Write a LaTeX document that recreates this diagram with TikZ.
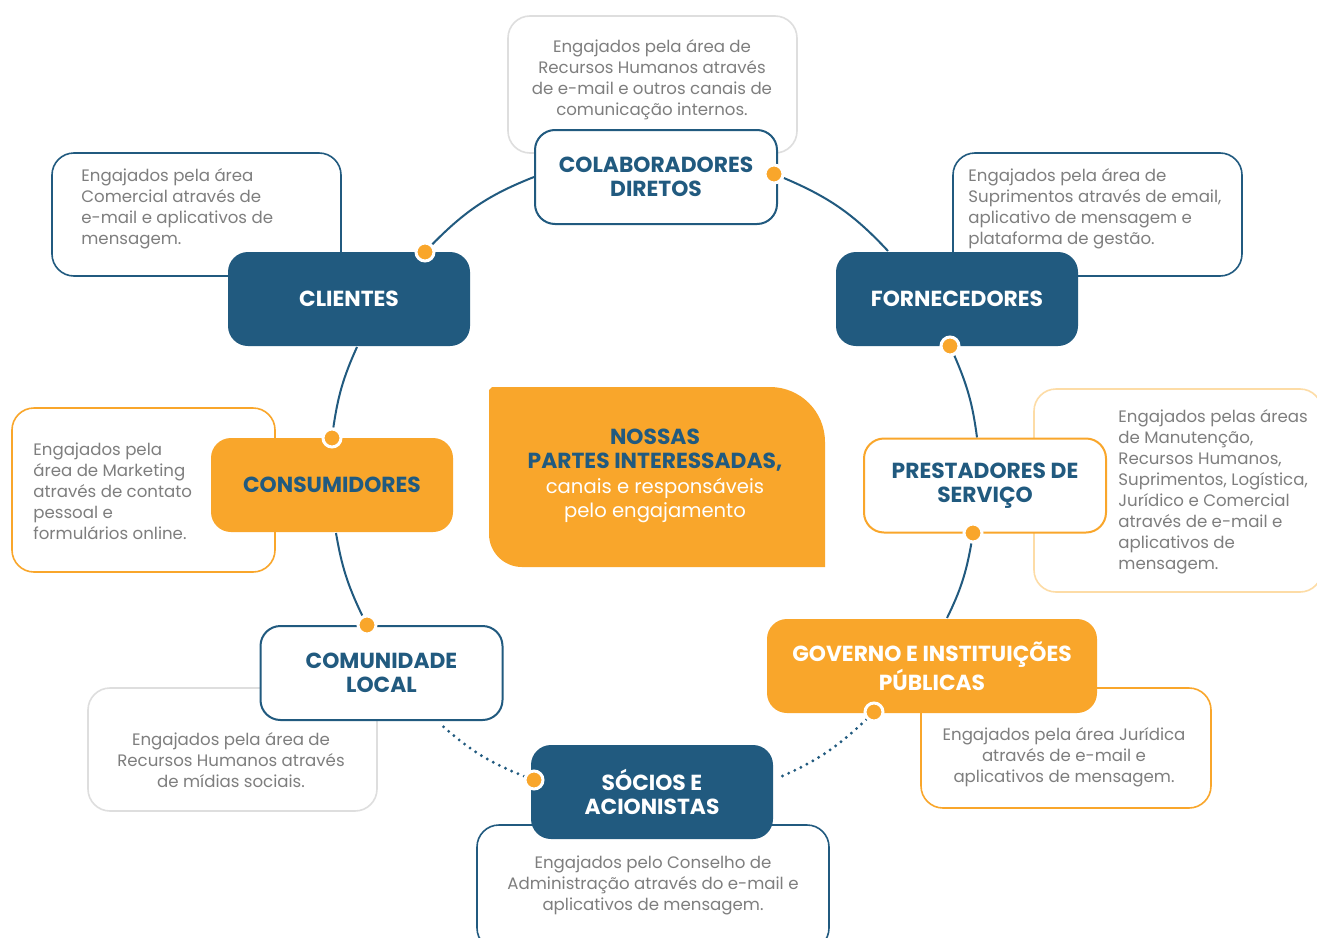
\documentclass[tikz,border=0pt]{standalone}
\usepackage{fontspec}
\setmainfont{Poppins}
\usetikzlibrary{calc}
\definecolor{navy}{HTML}{215A7F}
\definecolor{amber}{HTML}{F9A62B}
\definecolor{txtgray}{HTML}{7E7E7E}
\definecolor{softgray}{HTML}{DEDEDE}
\definecolor{softamber}{HTML}{FDDCA6}
\pgfdeclarelayer{paper}
\pgfdeclarelayer{back}
\pgfsetlayers{paper,back,main}
\tikzset{
  mainbox/.style={rectangle, rounded corners=10pt, minimum width=121pt, minimum height=47pt,
    inner sep=0pt, align=center, font=\fontsize{10.9}{12}\selectfont\bfseries, line width=1pt},
  bluebox/.style={mainbox, fill=navy, text=white},
  amberbox/.style={mainbox, fill=amber, text=navy},
  whitebox/.style={mainbox, fill=white, draw=navy, text=navy},
  descbox/.style={rectangle, rounded corners=11pt, draw=#1, line width=0.8pt, fill=white, inner sep=0pt},
  desctext/.style={inner sep=0pt, text=txtgray, font=\fontsize{8.3}{10.5}\selectfont},
  conn/.style={draw=navy, line width=1pt},
  conndot/.style={draw=navy, line width=1.6pt, line cap=round, dash pattern=on 0pt off 3.4pt},
  hub/.style={circle, fill=amber, draw=white, line width=1.5pt, minimum size=9pt, inner sep=0pt}
}
\begin{document}
\begin{tikzpicture}[x=0.5pt,y=-0.5pt]
\begin{pgfonlayer}{paper}
\fill[white] (0,0) rectangle (1317,937);
\end{pgfonlayer}
\useasboundingbox (0,0) rectangle (1317,937);

% description frames
\node[descbox=softgray, minimum width=144.5pt, minimum height=68.5pt] (bcol) at (652.5,84.5) {};
\node[descbox=navy, minimum width=144.5pt, minimum height=61.5pt] (bcli) at (196.5,214.5) {};
\node[descbox=navy, minimum width=144.5pt, minimum height=61.5pt] (bfor) at (1097.5,214.5) {};
\node[descbox=amber, minimum width=131.5pt, minimum height=82pt] (bcons) at (143.5,490) {};
\node[descbox=softamber, minimum width=144pt, minimum height=101.5pt] (bpre) at (1178,490.5) {};
\node[descbox=softgray, minimum width=144.5pt, minimum height=61.5pt] (bcom) at (232.5,749.5) {};
\node[descbox=amber, minimum width=145pt, minimum height=60pt] (bgov) at (1066,748) {};
\node[descbox=navy, minimum width=176pt, minimum height=62.5pt] (bsoc) at (653,887.5) {};

% description texts
\node[desctext, align=center] (tcol) at (652,80) {Engajados pela área de\\Recursos Humanos através\\de e-mail e outros canais de\\comunicação internos.};
\node[desctext, align=left, anchor=west] (tcli) at (81,209) {Engajados pela área\\Comercial através de\\e-mail e aplicativos de\\mensagem.};
\node[desctext, align=left, anchor=west] (tfor) at (968,209) {Engajados pela área de\\Suprimentos através de email,\\aplicativo de mensagem e\\plataforma de gestão.};
\node[desctext, align=left, anchor=west] (tcons) at (33,491.5) {Engajados pela\\área de Marketing\\através de contato\\pessoal e\\formulários online.};
\node[desctext, align=left, anchor=west] (tpre) at (1118,491.5) {Engajados pelas áreas\\de Manutenção,\\Recursos Humanos,\\Suprimentos, Logística,\\Jurídico e Comercial\\através de e-mail e\\aplicativos de\\mensagem.};
\node[desctext, align=center] (tcom) at (231,760.5) {Engajados pela área de\\Recursos Humanos através\\de mídias sociais.};
\node[desctext, align=center] (tgov) at (1064,757.5) {Engajados pela área Jurídica\\através de e-mail e\\aplicativos de mensagem.};
\node[desctext, align=center] (tsoc) at (653,885.5) {Engajados pelo Conselho de\\Administração através do e-mail e\\aplicativos de mensagem.};

% central panel
\fill[amber] (489,534) -- (489,390) -- (492,387) -- (770,387)
  .. controls (800.4,387) and (825,411.6) .. (825,442) -- (825,567) -- (522,567)
  .. controls (503.8,567) and (489,552.2) .. (489,534) -- cycle;
\node[inner sep=0pt, align=center, font=\fontsize{10.9}{12.2}\selectfont] (hubtext) at (655,476)
  {\textcolor{navy}{\bfseries NOSSAS}\\\textcolor{navy}{\bfseries PARTES INTERESSADAS,}\\\textcolor{white}{\fontsize{9.8}{12.2}\selectfont canais e responsáveis}\\\textcolor{white}{\fontsize{9.8}{12.2}\selectfont pelo engajamento}};

% stakeholder boxes
\node[whitebox] (col) at (656,177) {COLABORADORES\\DIRETOS};
\node[bluebox] (cli) at (349,299) {CLIENTES};
\node[bluebox] (forn) at (957,299) {FORNECEDORES};
\node[amberbox] (cons) at (332,485) {CONSUMIDORES};
\node[whitebox, draw=amber] (pre) at (985,485.5) {PRESTADORES DE\\SERVIÇO};
\node[whitebox] (com) at (381.5,673) {COMUNIDADE\\LOCAL};
\node[amberbox, text=white, minimum width=165pt] (gov) at (932,666) {GOVERNO E INSTITUIÇÕES\\PÚBLICAS};
\node[bluebox] (soc) at (652,792) {SÓCIOS E\\ACIONISTAS};

% hubs
\node[hub] (dcli) at (425,252) {};
\node[hub] (dcol) at (774,174) {};
\node[hub] (dfor) at (950,346) {};
\node[hub] (dcons) at (332,438) {};
\node[hub] (dpre) at (973,533) {};
\node[hub] (dcom) at (367,625) {};
\node[hub] (dgov) at (874,712) {};
\node[hub] (dsoc) at (534,780) {};

% connectors
\begin{pgfonlayer}{back}
\draw[conn] (dcons) to[bend left=8] ($(cli.south)+(8,0)$);
\draw[conn] (dcli) to[bend left=12] (col.west);
\draw[conn] (dcol) to[bend left=12] ($(forn.north)+(-69,0)$);
\draw[conn] (dfor) to[bend left=8] ($(pre.north)+(-8,0)$);
\draw[conn] (dpre) to[bend left=8] ($(gov.north)+(15,0)$);
\draw[conndot] (dgov) to[bend left=10] ($(soc.east)+(4,-14)$);
\draw[conndot] (dsoc) to[bend left=10] ($(com.south)+(60,4)$);
\draw[conn] (dcom) to[bend left=8] ($(cons.south)+(4,0)$);
\end{pgfonlayer}
\end{tikzpicture}
\end{document}
